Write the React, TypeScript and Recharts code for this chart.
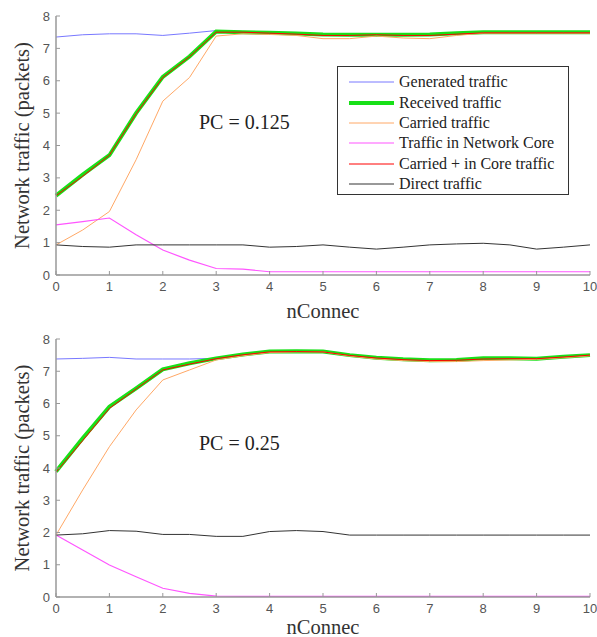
import React from "react";
import { LineChart, Line, XAxis, YAxis, Legend } from "recharts";

// x positions (nConnec)
const nConnec = [0, 0.5, 1, 1.5, 2, 2.5, 3, 3.5, 4, 4.5, 5, 5.5, 6, 6.5, 7, 7.5, 8, 8.5, 9, 9.5, 10];
const xTicks = [0, 1, 2, 3, 4, 5, 6, 7, 8, 9, 10];
const yTicks = [0, 1, 2, 3, 4, 5, 6, 7, 8];

// PC = 0.125
const generated1 = [7.35, 7.42, 7.45, 7.45, 7.4, 7.47, 7.55, 7.52, 7.47, 7.45, 7.42, 7.4, 7.4, 7.4, 7.42, 7.46, 7.5, 7.5, 7.5, 7.5, 7.5];
const received1 = [2.45, 3.1, 3.7, 5.0, 6.12, 6.75, 7.52, 7.5, 7.48, 7.46, 7.43, 7.42, 7.42, 7.42, 7.43, 7.47, 7.5, 7.5, 7.5, 7.5, 7.5];
const carried1 = [0.93, 1.39, 1.96, 3.56, 5.37, 6.1, 7.38, 7.45, 7.43, 7.4, 7.3, 7.3, 7.38, 7.32, 7.3, 7.4, 7.47, 7.47, 7.47, 7.47, 7.47];
const core1 = [1.55, 1.65, 1.76, 1.24, 0.77, 0.46, 0.2, 0.18, 0.1, 0.1, 0.1, 0.1, 0.1, 0.1, 0.1, 0.1, 0.1, 0.1, 0.1, 0.1, 0.1];
const carriedCore1 = [2.45, 3.05, 3.7, 4.98, 6.1, 6.74, 7.5, 7.5, 7.47, 7.44, 7.4, 7.4, 7.42, 7.4, 7.4, 7.44, 7.48, 7.48, 7.48, 7.48, 7.48];
const direct1 = [0.93, 0.88, 0.86, 0.93, 0.93, 0.93, 0.93, 0.93, 0.86, 0.88, 0.93, 0.86, 0.8, 0.86, 0.93, 0.96, 0.98, 0.93, 0.8, 0.86, 0.93];

// PC = 0.25
const generated2 = [7.38, 7.4, 7.43, 7.38, 7.38, 7.38, 7.4, 7.52, 7.61, 7.62, 7.61, 7.5, 7.42, 7.37, 7.34, 7.35, 7.4, 7.4, 7.39, 7.45, 7.5];
const received2 = [3.89, 4.92, 5.9, 6.47, 7.06, 7.25, 7.4, 7.52, 7.61, 7.62, 7.61, 7.5, 7.42, 7.37, 7.34, 7.35, 7.4, 7.4, 7.39, 7.45, 7.5];
const carried2 = [1.92, 3.32, 4.66, 5.8, 6.73, 7.04, 7.35, 7.48, 7.58, 7.6, 7.6, 7.47, 7.38, 7.33, 7.3, 7.3, 7.33, 7.35, 7.37, 7.42, 7.48];
const core2 = [1.92, 1.46, 0.99, 0.63, 0.27, 0.11, 0.03, 0.02, 0.02, 0.02, 0.02, 0.02, 0.02, 0.02, 0.02, 0.02, 0.02, 0.02, 0.02, 0.02, 0.02];
const carriedCore2 = [3.87, 4.85, 5.85, 6.45, 7.04, 7.22, 7.39, 7.51, 7.6, 7.61, 7.6, 7.49, 7.41, 7.36, 7.33, 7.34, 7.38, 7.39, 7.39, 7.44, 7.5];
const direct2 = [1.92, 1.96, 2.06, 2.04, 1.94, 1.94, 1.88, 1.88, 2.03, 2.06, 2.03, 1.92, 1.92, 1.92, 1.92, 1.92, 1.92, 1.92, 1.92, 1.92, 1.92];

const SERIES = [
  { key: "generated", name: "Generated traffic", color: "#7878ff", width: 1 },
  { key: "received", name: "Received traffic", color: "#18e018", width: 4 },
  { key: "carried", name: "Carried traffic", color: "#ffa866", width: 1 },
  { key: "core", name: "Traffic in Network Core", color: "#ff55ff", width: 1.2 },
  { key: "carriedCore", name: "Carried + in Core traffic", color: "#ff0000", width: 1 },
  { key: "direct", name: "Direct traffic", color: "#333333", width: 1 },
];

const build = (g: number[], r: number[], c: number[], k: number[], ck: number[], d: number[]) =>
  nConnec.map((x, i) => ({
    x, generated: g[i], received: r[i], carried: c[i], core: k[i], carriedCore: ck[i], direct: d[i],
  }));

const data1 = build(generated1, received1, carried1, core1, carriedCore1, direct1);
const data2 = build(generated2, received2, carried2, core2, carriedCore2, direct2);

const serif = "'Liberation Serif', 'Times New Roman', serif";
const tickStyle = { fontSize: 13, fill: "#555", fontFamily: "'Liberation Sans', Arial, sans-serif" };
const axisLine = { stroke: "#999", strokeWidth: 1.5 };

function LegendBox() {
  return (
    <div
      style={{
        width: 232, height: 129, boxSizing: "border-box", border: "1px solid #333",
        background: "#fff", paddingTop: 5, fontFamily: serif, fontSize: 16, color: "#222",
      }}
    >
      {SERIES.map((s) => (
        <div key={s.key} style={{ display: "flex", alignItems: "center", height: 20.4 }}>
          <svg width={56} height={8} style={{ flex: "none" }}>
            <line x1={11} x2={56} y1={4} y2={4} stroke={s.color} strokeWidth={s.width} />
          </svg>
          <span style={{ marginLeft: 5, whiteSpace: "nowrap", lineHeight: 1 }}>{s.name}</span>
        </div>
      ))}
    </div>
  );
}

function TrafficChart({ data, height, top, xHeight, pc, pcTop, legend }: {
  data: any[]; height: number; top: number; xHeight: number; pc: string; pcTop: number; legend: boolean;
}) {
  return (
    <div style={{ position: "relative", width: 597, height }}>
      <LineChart width={597} height={height} data={data} margin={{ top, right: 7, left: 0, bottom: 0 }}>
        <XAxis
          dataKey="x" type="number" domain={[0, 10]} ticks={xTicks} height={xHeight}
          tick={tickStyle} tickSize={-4} tickMargin={11}
          axisLine={axisLine} tickLine={{ stroke: "#999" }}
          label={{ value: "nConnec", position: "insideBottom", offset: 3, fontSize: 20.5, fill: "#333", fontFamily: serif }}
        />
        <YAxis
          type="number" domain={[0, 8]} ticks={yTicks} width={56}
          tick={tickStyle} tickSize={-4} tickMargin={10}
          axisLine={axisLine} tickLine={{ stroke: "#999" }}
          label={{
            value: "Network traffic (packets)", angle: -90, position: "insideLeft", offset: 22,
            fontSize: 20.5, fill: "#333", fontFamily: serif, style: { textAnchor: "middle" },
          }}
        />
        {legend && (
          <Legend
            layout="vertical" align="center" verticalAlign="middle"
            wrapperStyle={{ left: 337, top: 66, width: 232, height: 129 }}
            content={() => <LegendBox />}
          />
        )}
        {SERIES.map((s) => (
          <Line
            key={s.key} type="linear" dataKey={s.key} name={s.name}
            stroke={s.color} strokeWidth={s.width} dot={false} activeDot={false}
            isAnimationActive={false}
          />
        ))}
      </LineChart>
      <div
        style={{
          position: "absolute", left: 199, top: pcTop, fontFamily: serif, fontSize: 20,
          lineHeight: 1, color: "#222", whiteSpace: "nowrap",
        }}
      >
        {pc}
      </div>
    </div>
  );
}

export default function App() {
  return (
    <div style={{ position: "absolute", left: 0, top: 0, width: 597, height: 637, background: "#fff" }}>
      <TrafficChart data={data1} height={321} top={16} xHeight={46} pc="PC = 0.125" pcTop={112} legend />
      <TrafficChart data={data2} height={316} top={18} xHeight={40} pc="PC = 0.25" pcTop={112} legend={false} />
    </div>
  );
}
